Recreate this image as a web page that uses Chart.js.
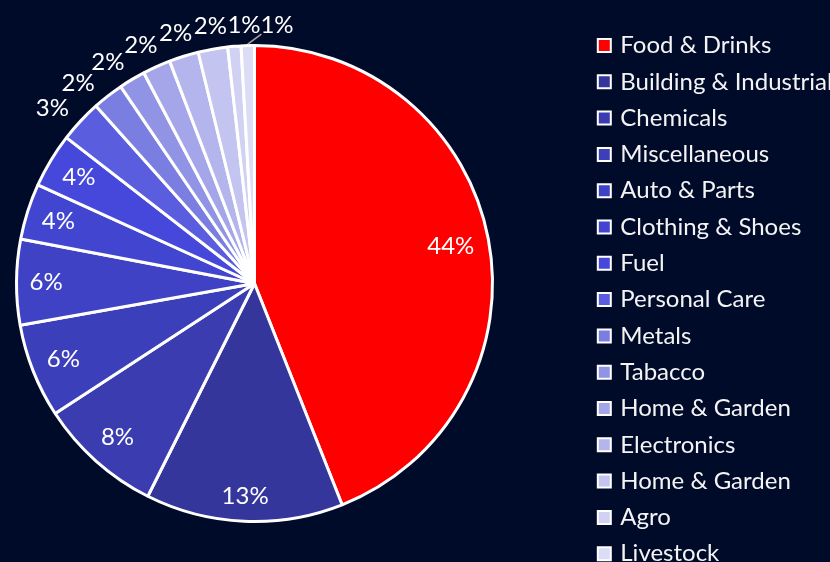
<!DOCTYPE html>
<html>
<head>
<meta charset="utf-8">
<script src="https://cdn.jsdelivr.net/npm/chart.js@4/dist/chart.umd.min.js"></script>
<style>
  html, body { margin: 0; padding: 0; width: 830px; height: 562px; overflow: hidden; background: #000b2a; }
  #wrap { position: relative; width: 830px; height: 562px; overflow: hidden; }
  #c { position: absolute; left: -79px; top: -11px; }
</style>
</head>
<body>
<div id="wrap"><canvas id="c" width="909" height="589"></canvas></div>
<script>
// ---- data ----
const categories = [
  'Food & Drinks', 'Building & Industrial', 'Chemicals', 'Miscellaneous', 'Auto & Parts',
  'Clothing & Shoes', 'Fuel', 'Personal Care', 'Metals', 'Tabacco',
  'Home & Garden', 'Electronics', 'Home & Garden', 'Agro', 'Livestock'
];
const shares = [44.0, 13.4, 8.4, 6.4, 5.8, 3.8, 3.7, 2.9, 2.1, 1.8, 1.9, 2.0, 2.0, 0.9, 0.9];
const sliceColors = [
  '#ff0000', '#34369c', '#3a3caf', '#3c3fba', '#3f42c5',
  '#4245d0', '#4548da', '#5a5ddd', '#7b7ee1', '#9193e5',
  '#a4a6e9', '#b4b5ec', '#c3c4f0', '#d0d1f3', '#dcdcf6'
];

const FONT_SIZE = 24;
const FONT = FONT_SIZE + 'px Lato';

const sliceLabels = {
  id: 'sliceLabels',
  afterDatasetsDraw(chart) {
    const ctx = chart.ctx;
    const meta = chart.getDatasetMeta(0);
    const values = chart.data.datasets[0].data;
    const total = values.reduce((a, b) => a + b, 0);
    ctx.save();
    ctx.font = FONT;
    ctx.fillStyle = '#ffffff';
    ctx.textAlign = 'center';
    ctx.textBaseline = 'middle';
    const outs = [];
    let cx = 0, cy = 0, R = 0;
    meta.data.forEach((arc, i) => {
      const p = arc.getProps(['x', 'y', 'startAngle', 'endAngle', 'outerRadius'], true);
      cx = p.x; cy = p.y; R = p.outerRadius;
      const pct = values[i] / total * 100;
      const text = Math.round(pct) + '%';
      const w = ctx.measureText(text).width;
      const mid = (p.startAngle + p.endAngle) / 2;
      const c = Math.cos(mid), s = Math.sin(mid);
      if (pct >= 3.5) {
        const ext = w / 2 * Math.abs(c) + 11 * Math.abs(s);
        const r = R - 13 - ext;
        ctx.fillText(text, p.x + r * c, p.y + r * s);
      } else {
        outs.push({ text, w, nat: mid, a: mid, start: p.startAngle, end: p.endAngle });
      }
    });
    // spread outside labels along the ring so they do not pile up
    const h = 18;
    const rOut = R + 24;
    const tanExt = L => L.w / 2 * Math.abs(Math.sin(L.a)) + h / 2 * Math.abs(Math.cos(L.a));
    for (let it = 0; it < 400; it++) {
      for (let k = 0; k < outs.length - 1; k++) {
        const A = outs[k], B = outs[k + 1];
        const sep = (tanExt(A) + tanExt(B)) * 0.975 / rOut;
        const gap = B.a - A.a;
        if (gap < sep) { const m = (sep - gap) / 2; A.a -= m; B.a += m; }
      }
    }
    outs.forEach(L => {
      const c = Math.cos(L.a), s = Math.sin(L.a);
      const r = R + 1.5 + 9.5 + (L.w / 2 * Math.abs(c) + h / 2 * Math.abs(s));
      const lx = cx + r * c, ly = cy + r * s;
      const beyond = Math.max(L.a - L.end, L.start - L.a);
      if (beyond > 3 * Math.PI / 180) {
        const mc = Math.cos(L.nat), ms = Math.sin(L.nat);
        ctx.save();
        ctx.strokeStyle = '#a6a6a6';
        ctx.lineWidth = 1.5;
        ctx.beginPath();
        ctx.moveTo(cx + (R + 1.5) * mc, cy + (R + 1.5) * ms);
        ctx.lineTo(lx - L.w / 2 + 1, ly + h / 2);
        ctx.stroke();
        ctx.restore();
      }
      ctx.fillText(L.text, lx, ly);
    });
    ctx.restore();
  }
};

new Chart(document.getElementById('c'), {
  type: 'pie',
  data: {
    labels: categories,
    datasets: [{
      data: shares,
      backgroundColor: sliceColors,
      borderColor: '#ffffff',
      borderWidth: 3,
      radius: 238
    }]
  },
  options: {
    responsive: false,
    devicePixelRatio: 1,
    animation: false,
    layout: { padding: 0 },
    plugins: {
      tooltip: { enabled: false },
      legend: {
        position: 'right',
        align: 'end',
        maxWidth: 242,
        labels: {
          color: '#f4f4f4',
          font: { family: 'Lato', size: FONT_SIZE },
          usePointStyle: true,
          pointStyle: 'rect',
          boxWidth: 8,
          boxHeight: 13,
          padding: 12.3,
          generateLabels(chart) {
            const items = Chart.overrides.pie.plugins.legend.labels.generateLabels(chart);
            items.forEach(it => { it.lineWidth = 2; it.pointStyle = 'rect'; });
            return items;
          }
        }
      }
    }
  },
  plugins: [sliceLabels]
});
</script>
</body>
</html>
